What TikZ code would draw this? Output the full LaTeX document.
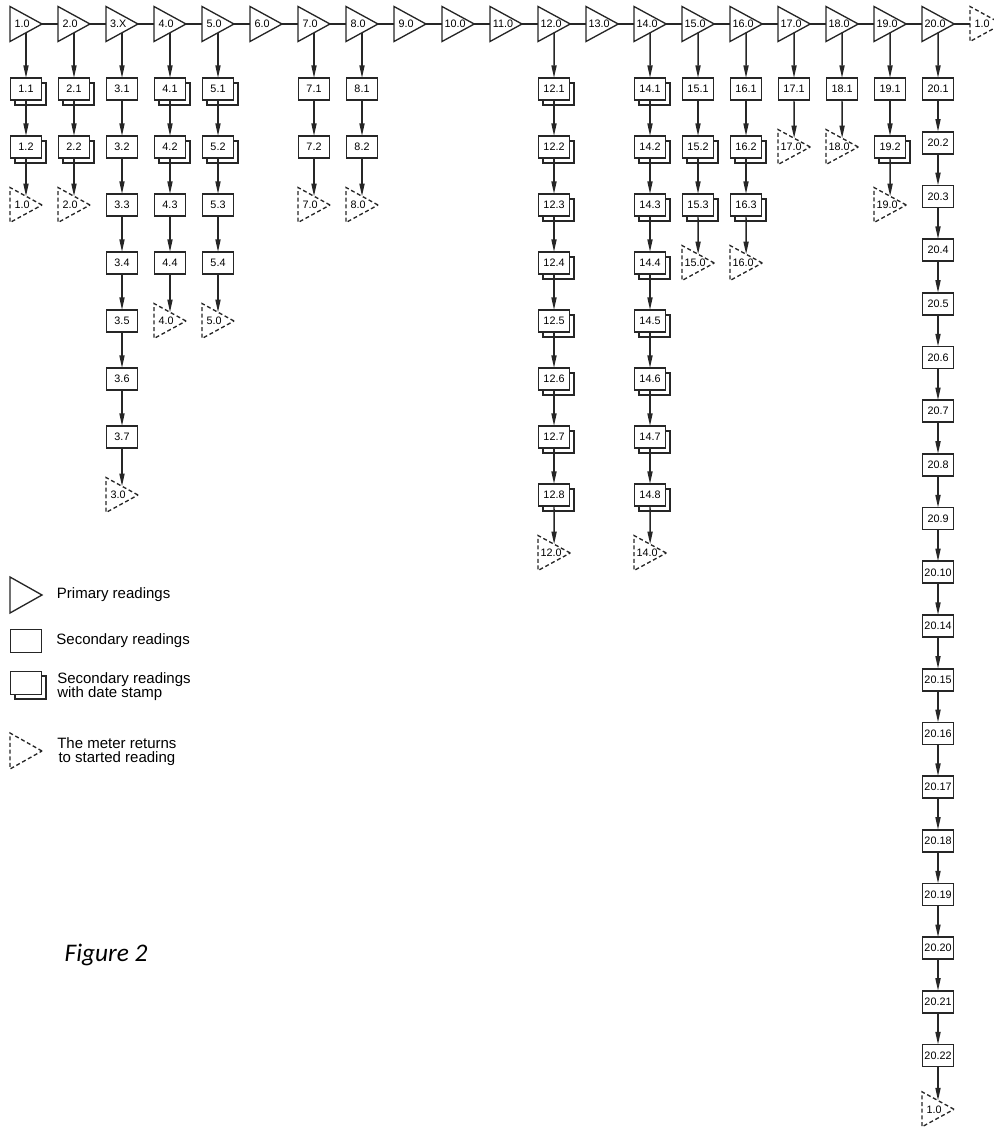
\documentclass[tikz,border=0pt]{standalone}
\usepackage{fontspec}
\setmainfont{Liberation Sans}
\newfontfamily\capfont{Carlito}
\usetikzlibrary{arrows.meta, positioning, shapes.geometric, shadows}
\tikzset{
  ink/.style     = {draw=black!85},
  ptri/.style    = {isosceles triangle, isosceles triangle stretches,
                    shape border rotate=0, ink, line width=1pt, fill=white,
                    inner sep=0pt, outer sep=0pt,
                    minimum width=26.25pt, minimum height=24pt,
                    execute at begin node={\kern1.5pt},
                    font=\fontsize{8.1}{9}\selectfont},
  rtri/.style    = {ptri, dash pattern=on 3pt off 2pt},
  secbox/.style  = {rectangle, ink, line width=1.3pt, fill=white,
                    inner sep=0pt, outer sep=0pt,
                    minimum width=23.25pt, minimum height=16.5pt,
                    font=\fontsize{8.1}{9}\selectfont},
  datebox/.style = {secbox, copy shadow={shadow xshift=3.2pt, shadow yshift=-3.6pt}},
  arr/.style     = {-{Triangle[length=9.5pt, width=3.8pt]}, ink, line width=1.1pt},
  link/.style    = {ink, line width=1.1pt},
  lgd/.style     = {font=\fontsize{11.25}{10.5}\selectfont, inner sep=0pt},
}

\begin{document}
\begin{tikzpicture}[x=0.75pt, y=0.75pt]
  \useasboundingbox (0,0) rectangle (994,-1128);

  % Primary readings along the top
  \foreach \i/\lab in {1/1.0, 2/2.0, 3/3.X, 4/4.0, 5/5.0, 6/6.0, 7/7.0, 8/8.0,
                       9/9.0, 10/10.0, 11/11.0, 12/12.0, 13/13.0, 14/14.0,
                       15/15.0, 16/16.0, 17/17.0, 18/18.0, 19/19.0, 20/20.0}
    \node[ptri, anchor=lower side] (pr\i) at ({10+48*(\i-1)}, -24) {\lab};
  \node[rtri, anchor=lower side] (prend) at (970,-24) {1.0};
  \foreach \i [count=\j from 2] in {1,...,19}
    \draw[link] (pr\i.apex) -- (pr\j.lower side);
  \draw[link] (pr20.apex) -- (prend.lower side);

  % Secondary readings under each primary one
  \foreach \c/\ret/\dy/\kids in {
      1/1.0/58/{1.1/1, 1.2/1},
      2/2.0/58/{2.1/1, 2.2/1},
      3/3.0/58/{3.1/0, 3.2/0, 3.3/0, 3.4/0, 3.5/0, 3.6/0, 3.7/0},
      4/4.0/58/{4.1/1, 4.2/1, 4.3/0, 4.4/0},
      5/5.0/58/{5.1/1, 5.2/1, 5.3/0, 5.4/0},
      7/7.0/58/{7.1/0, 7.2/0},
      8/8.0/58/{8.1/0, 8.2/0},
      12/12.0/58/{12.1/1, 12.2/1, 12.3/1, 12.4/1, 12.5/1, 12.6/1, 12.7/1, 12.8/1},
      14/14.0/58/{14.1/1, 14.2/1, 14.3/1, 14.4/1, 14.5/1, 14.6/1, 14.7/1, 14.8/1},
      15/15.0/58/{15.1/0, 15.2/1, 15.3/1},
      16/16.0/58/{16.1/0, 16.2/1, 16.3/1},
      17/17.0/58/{17.1/0},
      18/18.0/58/{18.1/0},
      19/19.0/58/{19.1/0, 19.2/1},
      20/1.0/53.7/{20.1/0, 20.2/0, 20.3/0, 20.4/0, 20.5/0, 20.6/0, 20.7/0,
                   20.8/0, 20.9/0, 20.10/0, 20.14/0, 20.15/0, 20.16/0,
                   20.17/0, 20.18/0, 20.19/0, 20.20/0, 20.21/0, 20.22/0}} {
    \foreach \lab/\st [count=\k] in \kids {
      \pgfmathtruncatemacro\pk{\k-1}
      \ifnum\st=1 \tikzset{kidbox/.style=datebox}\else\tikzset{kidbox/.style=secbox}\fi
      \node[kidbox] (sec\c-\k) at ({26+48*(\c-1)}, {-89-\dy*(\k-1)}) {\lab};
      \ifnum\k=1 \draw[arr] (pr\c.right side) -- (sec\c-\k.north);
      \else \draw[arr] (sec\c-\pk.south) -- (sec\c-\k.north);
      \fi
      \xdef\last{\k}
    }
    \node[rtri, anchor=lower side] (ret\c) at ({10+48*(\c-1)}, {-89-\dy*\last}) {\ret};
    \draw[arr] (sec\c-\last.south) -- (ret\c.left side);
  }

  % Key
  \node[ptri, anchor=lower side, minimum width=27pt] (keyp) at (10,-595) {};
  \node[lgd, right=11pt of keyp.apex] (keyptxt) {Primary readings};
  \node[secbox, minimum height=17.25pt] (keys) at (26,-641) {};
  \node[lgd, right=11pt of keys.east] (keystxt) {Secondary readings};
  \node[datebox, minimum height=17.25pt] (keyd) at (26,-683) {};
  \node[lgd, align=left, anchor=west] (keydtxt) at (57,-687)
    {Secondary readings\\with date stamp};
  \node[rtri, anchor=lower side, minimum width=27pt] (keyr) at (10,-751) {};
  \node[lgd, align=center, anchor=west] (keyrtxt) at (57,-752)
    {The meter returns\\to started reading};

  \node[font=\capfont\itshape\fontsize{19}{22}\selectfont, anchor=west]
    (fig) at (60,-955) {Figure 2};
\end{tikzpicture}
\end{document}
